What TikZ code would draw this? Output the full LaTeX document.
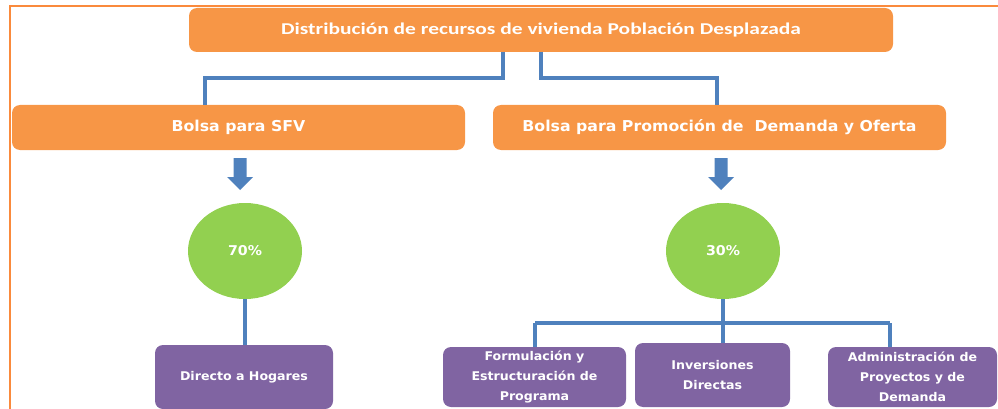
\documentclass[tikz,border=0pt]{standalone}
\usepackage{fontspec}
\setmainfont{DejaVu Sans}
\newfontfamily\topfont{Carlito}
\usetikzlibrary{shapes.geometric}
\definecolor{orng}{HTML}{F79646}
\definecolor{frameor}{HTML}{FA8A3C}
\definecolor{grn}{HTML}{92D050}
\definecolor{purp}{HTML}{8064A2}
\definecolor{blu}{HTML}{4F81BD}
\tikzset{
  obox/.style={rectangle, rounded corners=8pt, fill=orng, text=white, inner sep=0pt, font=\bfseries},
  pbox/.style={rectangle, rounded corners=8pt, fill=purp, text=white, inner sep=0pt, align=center, font=\bfseries\fontsize{12}{20}\selectfont},
  pct/.style={ellipse, fill=grn, text=white, inner sep=0pt, minimum width=114pt, minimum height=96pt, font=\bfseries\fontsize{13.5}{15}\selectfont},
  conn/.style={draw=blu, line width=3.3pt},
  barrow/.style={fill=blu}
}
\newcommand{\hstr}[1]{\scalebox{1.05}[1]{#1}}
\newcommand{\tstr}[1]{\scalebox{1.3}[1]{#1}}
\begin{document}
\begin{tikzpicture}[x=1pt,y=-1pt]
\useasboundingbox (0,0) rectangle (998,409);
% frame
\draw[frameor, line width=1.8pt] (10,409) -- (10,6) -- (998,6);
% boxes
\node[obox, minimum width=704pt, minimum height=44pt, font=\topfont\bfseries\fontsize{16.5}{18}\selectfont] (top) at (541,30) {\tstr{Distribución de recursos de vivienda Población Desplazada}};
\node[obox, minimum width=453pt, minimum height=45pt, font=\bfseries\fontsize{15}{16}\selectfont] (sfv) at (238.5,127.5) {\hstr{Bolsa para SFV}};
\node[obox, minimum width=453pt, minimum height=45pt, font=\bfseries\fontsize{15}{16}\selectfont] (prom) at (719.5,127.5) {\hstr{Bolsa para Promoción de\ \ Demanda y Oferta}};
% percentage ellipses
\node[pct] (p70) at (245,251) {\hstr{70\%}};
\node[pct] (p30) at (723,251) {\hstr{30\%}};
% bottom boxes
\node[pbox, minimum width=178pt, minimum height=64pt] (dir) at (244,377) {\hstr{Directo a Hogares}};
\node[pbox, minimum width=183pt, minimum height=60pt] (form) at (534.5,377) {\hstr{Formulación y}\\\hstr{Estructuración de}\\\hstr{Programa}};
\node[pbox, minimum width=155pt, minimum height=64pt] (inv) at (712.5,375) {\hstr{Inversiones}\\\hstr{Directas}};
\node[pbox, minimum width=169pt, minimum height=60pt] (adm) at (912.5,377) {\hstr{Administración de}\\\hstr{Proyectos y de}\\\hstr{Demanda}};
% top connectors
\coordinate (tl) at (503,52);
\coordinate (tr) at (541,52);
\draw[conn] (tl) -- (503,78) -- (205,78) -- (205,105);
\draw[conn] (tr) -- (541,78) -- (717,78) -- (717,105);
% block arrows
\foreach \cx in {240,721}{
  \fill[barrow] (\cx-6.5,158) -- (\cx+6.5,158) -- (\cx+6.5,177) -- (\cx+13,177) -- (\cx,190) -- (\cx-13,177) -- (\cx-6.5,177) -- cycle;
}
% lower connectors
\draw[conn] (p70.south) -- (dir.north -| p70.south);
\draw[conn] (p30.south) -- (inv.north -| p30.south);
\draw[conn] (535,323) -- (890,323);
\draw[conn] (535,323) -- (form.north -| 535,0);
\draw[conn] (890,323) -- (adm.north -| 890,0);
\end{tikzpicture}
\end{document}
